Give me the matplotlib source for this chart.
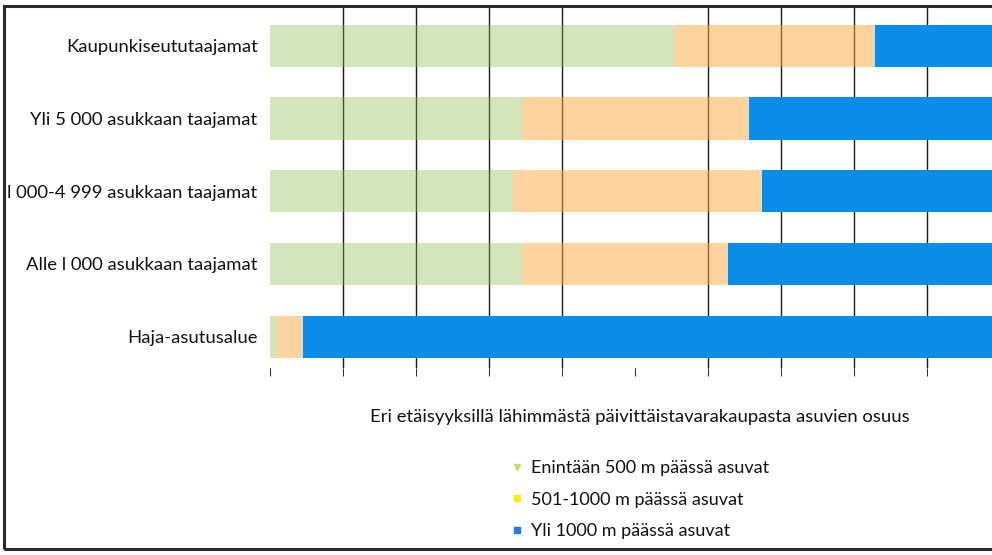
import matplotlib
matplotlib.use("Agg")
import matplotlib.pyplot as plt
from matplotlib.lines import Line2D
from matplotlib.patches import Rectangle

plt.rcParams['font.family'] = ['Lato', 'DejaVu Sans']

categories = [
    "Kaupunkiseututaajamat",
    "Yli 5 000 asukkaan taajamat",
    "l 000-4 999 asukkaan taajamat",
    "Alle l 000 asukkaan taajamat",
    "Haja-asutusalue",
]
within_500 = [55.5, 34.7, 33.3, 34.7, 1.0]
from_501_to_1000 = [27.4, 30.9, 34.1, 28.0, 3.5]
over_1000 = [17.1, 34.4, 32.6, 37.3, 95.5]

series_labels = [
    "Enintään 500 m päässä asuvat",
    "501-1000 m päässä asuvat",
    "Yli 1000 m päässä asuvat",
]
chart_title = "Eri etäisyyksillä lähimmästä päivittäistavarakaupasta asuvien osuus"
grid_values = [10, 20, 30, 40, 60, 70, 80, 90]
tick_values = [0, 10, 20, 30, 40, 50, 60, 70, 80, 90, 100]

W, H = 992, 555
fig = plt.figure(figsize=(W / 100, H / 100), dpi=100)

# axes in pixel terms: left 270, right 1000 (runs past the page edge), top 8, bottom 368
L, R, T, B = 270, 1000, 8, 368
ax = fig.add_axes([L / W, 1 - B / H, (R - L) / W, (B - T) / H])

green = (0.55, 0.74, 0.30)
orange = (0.99, 0.66, 0.25)
blue = "#0a8de8"

ypos = list(range(len(categories)))
bar_h = 0.58
left2 = [a for a in within_500]
left3 = [a + b for a, b in zip(within_500, from_501_to_1000)]

ax.barh(ypos, within_500, height=bar_h, color=green, alpha=0.38, zorder=2, linewidth=0)
ax.barh(ypos, from_501_to_1000, left=left2, height=bar_h, color=orange, alpha=0.5,
        zorder=2, linewidth=0)
ax.barh(ypos, over_1000, left=left3, height=bar_h, color=blue, zorder=3, linewidth=0)

for g in grid_values:
    ax.axvline(g, color="#1a1a1a", lw=1.0, zorder=1)

ax.set_xlim(0, 100)
ax.set_ylim(4.43, -0.52)
ax.set_xticks(tick_values)
ax.set_xticklabels([])
ax.tick_params(axis="x", direction="out", length=6, width=0.7, color="#222222")
ax.set_yticks(ypos)
ax.set_yticklabels(categories, fontsize=13.3, color="#111111")
ax.tick_params(axis="y", length=0, pad=9)
for s in ax.spines.values():
    s.set_visible(False)

fig.text(640 / W, 1 - 417 / H, chart_title, ha="center", va="center",
         fontsize=13.3, color="#111111")

handles = [
    Line2D([], [], ls="", marker="v", ms=5, color="#c9d86a"),
    Line2D([], [], ls="", marker="s", ms=5, color="#f2ee10"),
    Line2D([], [], ls="", marker="s", ms=5, color="#1f7fe0"),
]
fig.legend(handles, series_labels, loc="upper left",
           bbox_to_anchor=(504 / W, 1 - 451 / H), frameon=False,
           fontsize=13, handlelength=0.4, handletextpad=0.6,
           labelspacing=0.86, borderpad=0, labelcolor="#111111")

# page frame
fig.add_artist(Rectangle((4 / W, 1 - 549 / H), (1200) / W, (549 - 6) / H,
                         transform=fig.transFigure, fill=False,
                         edgecolor="#2a2a2a", lw=2.2))

fig.savefig("out.png", dpi=100)
